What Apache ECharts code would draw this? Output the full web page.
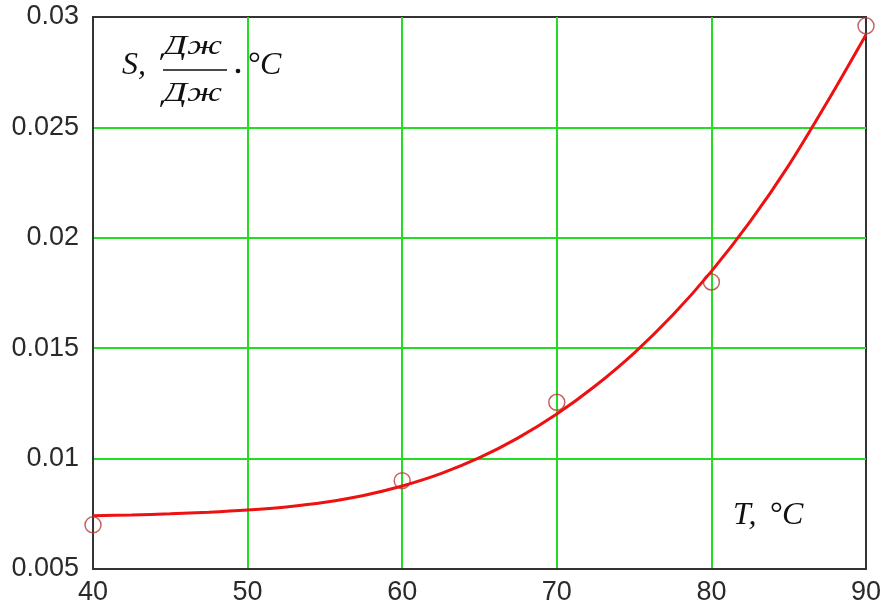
<!DOCTYPE html>
<html>
<head>
<meta charset="utf-8">
<script src="https://cdn.jsdelivr.net/npm/echarts@6/dist/echarts.min.js"></script>
<style>html,body{margin:0;padding:0;background:#fff}#c{width:888px;height:609px}</style>
</head>
<body>
<div id="c"></div>
<script>
// Fitted curve S(T)
const curveT = [40, 42.5, 45, 47.5, 50, 52.5, 55, 57.5, 60, 62.5, 65, 67.5, 70, 72.5, 75, 77.5, 80, 82.5, 85, 87.5, 90];
const curveS = [0.00741, 0.00745, 0.00750, 0.00757, 0.00767, 0.00781, 0.00802, 0.00833, 0.00876, 0.00932, 0.01004,
                0.01094, 0.01202, 0.01330, 0.01478, 0.01650, 0.01848, 0.02073, 0.02328, 0.02616, 0.02920];
// Measured points
const pointT = [40, 60, 70, 80, 90];
const pointS = [0.0070, 0.0090, 0.01255, 0.0180, 0.0296];

const chart = echarts.init(document.getElementById('c'), null, {renderer: 'canvas'});
function serif(text, size) {
  return {text: text, fontFamily: 'Liberation Serif', fontStyle: 'italic', fontSize: size, fill: '#111'};
}
function upright(text, size) {
  return {text: text, fontFamily: 'Liberation Serif', fontSize: size, fill: '#111'};
}
chart.setOption({
  animation: false,
  backgroundColor: '#fff',
  grid: {left: 93, right: 22, top: 17, bottom: 40, show: true, borderColor: '#333', borderWidth: 2, containLabel: false},
  xAxis: {
    type: 'value', min: 40, max: 90, interval: 10,
    axisLine: {show: true, lineStyle: {color: '#333', width: 2}},
    axisTick: {show: false},
    axisLabel: {color: '#2a2a2a', fontFamily: 'Liberation Sans', fontSize: 27, margin: 10},
    splitLine: {show: true, showMinLine: false, showMaxLine: false, lineStyle: {color: '#22dd22', width: 2}}
  },
  yAxis: {
    type: 'value', min: 0.005, max: 0.03, interval: 0.005,
    axisLine: {show: true, lineStyle: {color: '#333', width: 2}},
    axisTick: {show: false},
    axisLabel: {color: '#2a2a2a', fontFamily: 'Liberation Sans', fontSize: 27, margin: 14, padding: [8, 0, 0, 0]},
    splitLine: {show: true, showMinLine: false, showMaxLine: false, lineStyle: {color: '#22dd22', width: 2}}
  },
  series: [
    {
      type: 'scatter', data: pointT.map((t, i) => [t, pointS[i]]),
      symbol: 'circle', symbolSize: 16,
      itemStyle: {color: 'rgba(255,255,255,0)', borderColor: '#b83a3a', borderWidth: 1.5},
      z: 2
    },
    {
      type: 'line', data: curveT.map((t, i) => [t, curveS[i]]),
      smooth: 0.3, showSymbol: false,
      lineStyle: {color: '#ee1111', width: 3},
      z: 3
    }
  ],
  graphic: [
    {type: 'text', left: 122, top: 50, style: serif('S,', 32)},
    {type: 'text', x: 163, y: 33, scaleX: 1.4, style: serif('Дж', 27)},
    {type: 'line', shape: {x1: 163, y1: 70, x2: 227, y2: 70}, style: {stroke: '#111', lineWidth: 1.5}},
    {type: 'text', x: 163, y: 80, scaleX: 1.4, style: serif('Дж', 27)},
    {type: 'circle', shape: {cx: 238, cy: 71, r: 2.3}, style: {fill: '#111'}},
    {type: 'text', left: 248, top: 50, style: upright('°', 32)},
    {type: 'text', left: 260, top: 50, style: serif('C', 32)},
    {type: 'text', left: 733, top: 500, style: serif('T,', 32)},
    {type: 'text', left: 770, top: 500, style: upright('°', 32)},
    {type: 'text', left: 782, top: 500, style: serif('C', 32)}
  ]
});
</script>
</body>
</html>
